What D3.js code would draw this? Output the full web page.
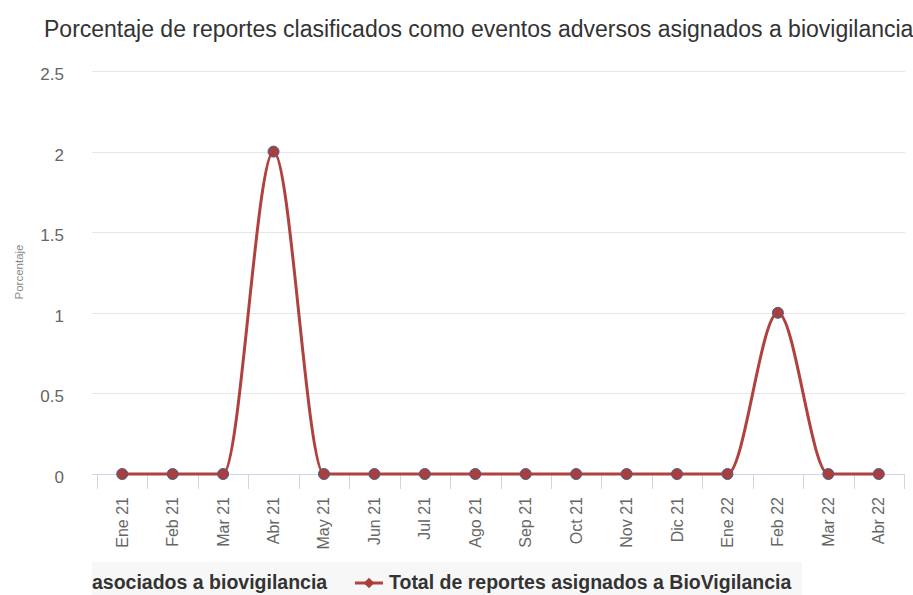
<html>
<head>
    <style>
        body {
            margin: 0;
            background-color: white;
            font-family: "Liberation Sans", Arial, sans-serif;
        }
        .grid-line {
            stroke: #e6e6e6;
            stroke-width: 1;
        }
        .tick-label {
            fill: #666666;
        }
        .serie-line {
            fill: none;
            stroke: #b0413e;
            stroke-width: 3;
        }
    </style>
</head>
<body>
<script src="https://cdn.jsdelivr.net/npm/d3@7"></script>
<script>
    (function() {

        var meses = ["Ene 21", "Feb 21", "Mar 21", "Abr 21", "May 21", "Jun 21", "Jul 21", "Ago 21",
                     "Sep 21", "Oct 21", "Nov 21", "Dic 21", "Ene 22", "Feb 22", "Mar 22", "Abr 22"];
        var porcentajes = [0, 0, 0, 2, 0, 0, 0, 0, 0, 0, 0, 0, 0, 1, 0, 0];
        var yTicks = [0, 0.5, 1, 1.5, 2, 2.5];
        var titulo = "Porcentaje de reportes clasificados como eventos adversos asignados a biovigilancia";
        var leyenda = ["asociados a biovigilancia", "Total de reportes asignados a BioVigilancia"];

        var width = 913, height = 595;
        var plotLeft = 92, plotRight = 905, plotTop = 71, plotBottom = 474;

        var svg = d3.select("body")
                .append("svg")
                .attr("width", width)
                .attr("height", height);

        svg.append("text")
                .attr("x", 44)
                .attr("y", 37)
                .attr("fill", "#333333")
                .style("font-size", "23px")
                .text(titulo);

        var x = d3.scaleBand()
                .domain(meses)
                .range([97, 904])
                .padding(0);

        var y = d3.scaleLinear()
                .domain([0, 2.5])
                .range([plotBottom, plotTop]);

        // grid
        svg.append("g")
                .selectAll("line")
                .data(yTicks)
                .enter()
                .append("line")
                .classed("grid-line", 1)
                .attr("x1", plotLeft)
                .attr("x2", plotRight)
                .attr("y1", function(d) { return Math.round(y(d)) + 0.5; })
                .attr("y2", function(d) { return Math.round(y(d)) + 0.5; });

        svg.append("g")
                .selectAll("text")
                .data(yTicks)
                .enter()
                .append("text")
                .classed("tick-label", 1)
                .attr("x", 64)
                .attr("y", function(d) { return y(d) + 9; })
                .attr("text-anchor", "end")
                .style("font-size", "17px")
                .text(function(d) { return d; });

        svg.append("text")
                .attr("transform", "translate(23," + 272 + ") rotate(-90)")
                .attr("text-anchor", "middle")
                .attr("fill", "#8a8a8a")
                .style("font-size", "11.5px")
                .text("Porcentaje");

        // x axis
        var xAxis = svg.append("g");
        xAxis.append("line")
                .attr("x1", plotLeft)
                .attr("x2", plotRight)
                .attr("y1", plotBottom + 0.5)
                .attr("y2", plotBottom + 0.5)
                .attr("stroke", "#ccd6eb");

        var bordes = meses.map(function(m) { return x(m); }).concat([x(meses[meses.length - 1]) + x.bandwidth()]);
        xAxis.selectAll(".tick")
                .data(bordes)
                .enter()
                .append("line")
                .attr("x1", function(d) { return Math.round(d) + 0.5; })
                .attr("x2", function(d) { return Math.round(d) + 0.5; })
                .attr("y1", plotBottom)
                .attr("y2", plotBottom + 15)
                .attr("stroke", "#ccd6eb");

        xAxis.selectAll(".xlabel")
                .data(meses)
                .enter()
                .append("text")
                .classed("tick-label", 1)
                .attr("transform", function(d) {
                    return "translate(" + (x(d) + x.bandwidth() / 2 + 5.5) + "," + 497 + ") rotate(-90)";
                })
                .attr("text-anchor", "end")
                .style("font-size", "16px")
                .text(function(d) { return d; });

        // serie
        var puntos = meses.map(function(m, i) { return { mes: m, valor: porcentajes[i] }; });

        var linea = d3.line()
                .x(function(d) { return x(d.mes) + x.bandwidth() / 2; })
                .y(function(d) { return y(d.valor); })
                .curve(d3.curveMonotoneX);

        svg.append("path")
                .datum(puntos)
                .classed("serie-line", 1)
                .attr("d", linea);

        svg.append("g")
                .selectAll("circle")
                .data(puntos)
                .enter()
                .append("circle")
                .attr("cx", function(d) { return x(d.mes) + x.bandwidth() / 2; })
                .attr("cy", function(d) { return y(d.valor); })
                .attr("r", 5.5)
                .attr("fill", "#a63f3d")
                .attr("stroke", "#4f5d86")
                .attr("stroke-width", 1);

        // leyenda
        var ley = svg.append("g");
        ley.append("rect")
                .attr("x", plotLeft)
                .attr("y", 562)
                .attr("width", 710)
                .attr("height", 33)
                .attr("fill", "#f7f7f7");

        ley.append("text")
                .attr("x", plotLeft)
                .attr("y", 589)
                .attr("fill", "#333333")
                .style("font-size", "19.5px")
                .style("font-weight", "bold")
                .text(leyenda[0]);

        ley.append("line")
                .attr("x1", 355)
                .attr("x2", 383)
                .attr("y1", 583)
                .attr("y2", 583)
                .attr("stroke", "#b0413e")
                .attr("stroke-width", 3);

        ley.append("path")
                .attr("d", d3.symbol().type(d3.symbolDiamond2).size(70))
                .attr("transform", "translate(369,583)")
                .attr("fill", "#a63f3d");

        ley.append("text")
                .attr("x", 389)
                .attr("y", 589)
                .attr("fill", "#333333")
                .style("font-size", "19.5px")
                .style("font-weight", "bold")
                .text(leyenda[1]);

    })();
</script>
</body>
</html>
